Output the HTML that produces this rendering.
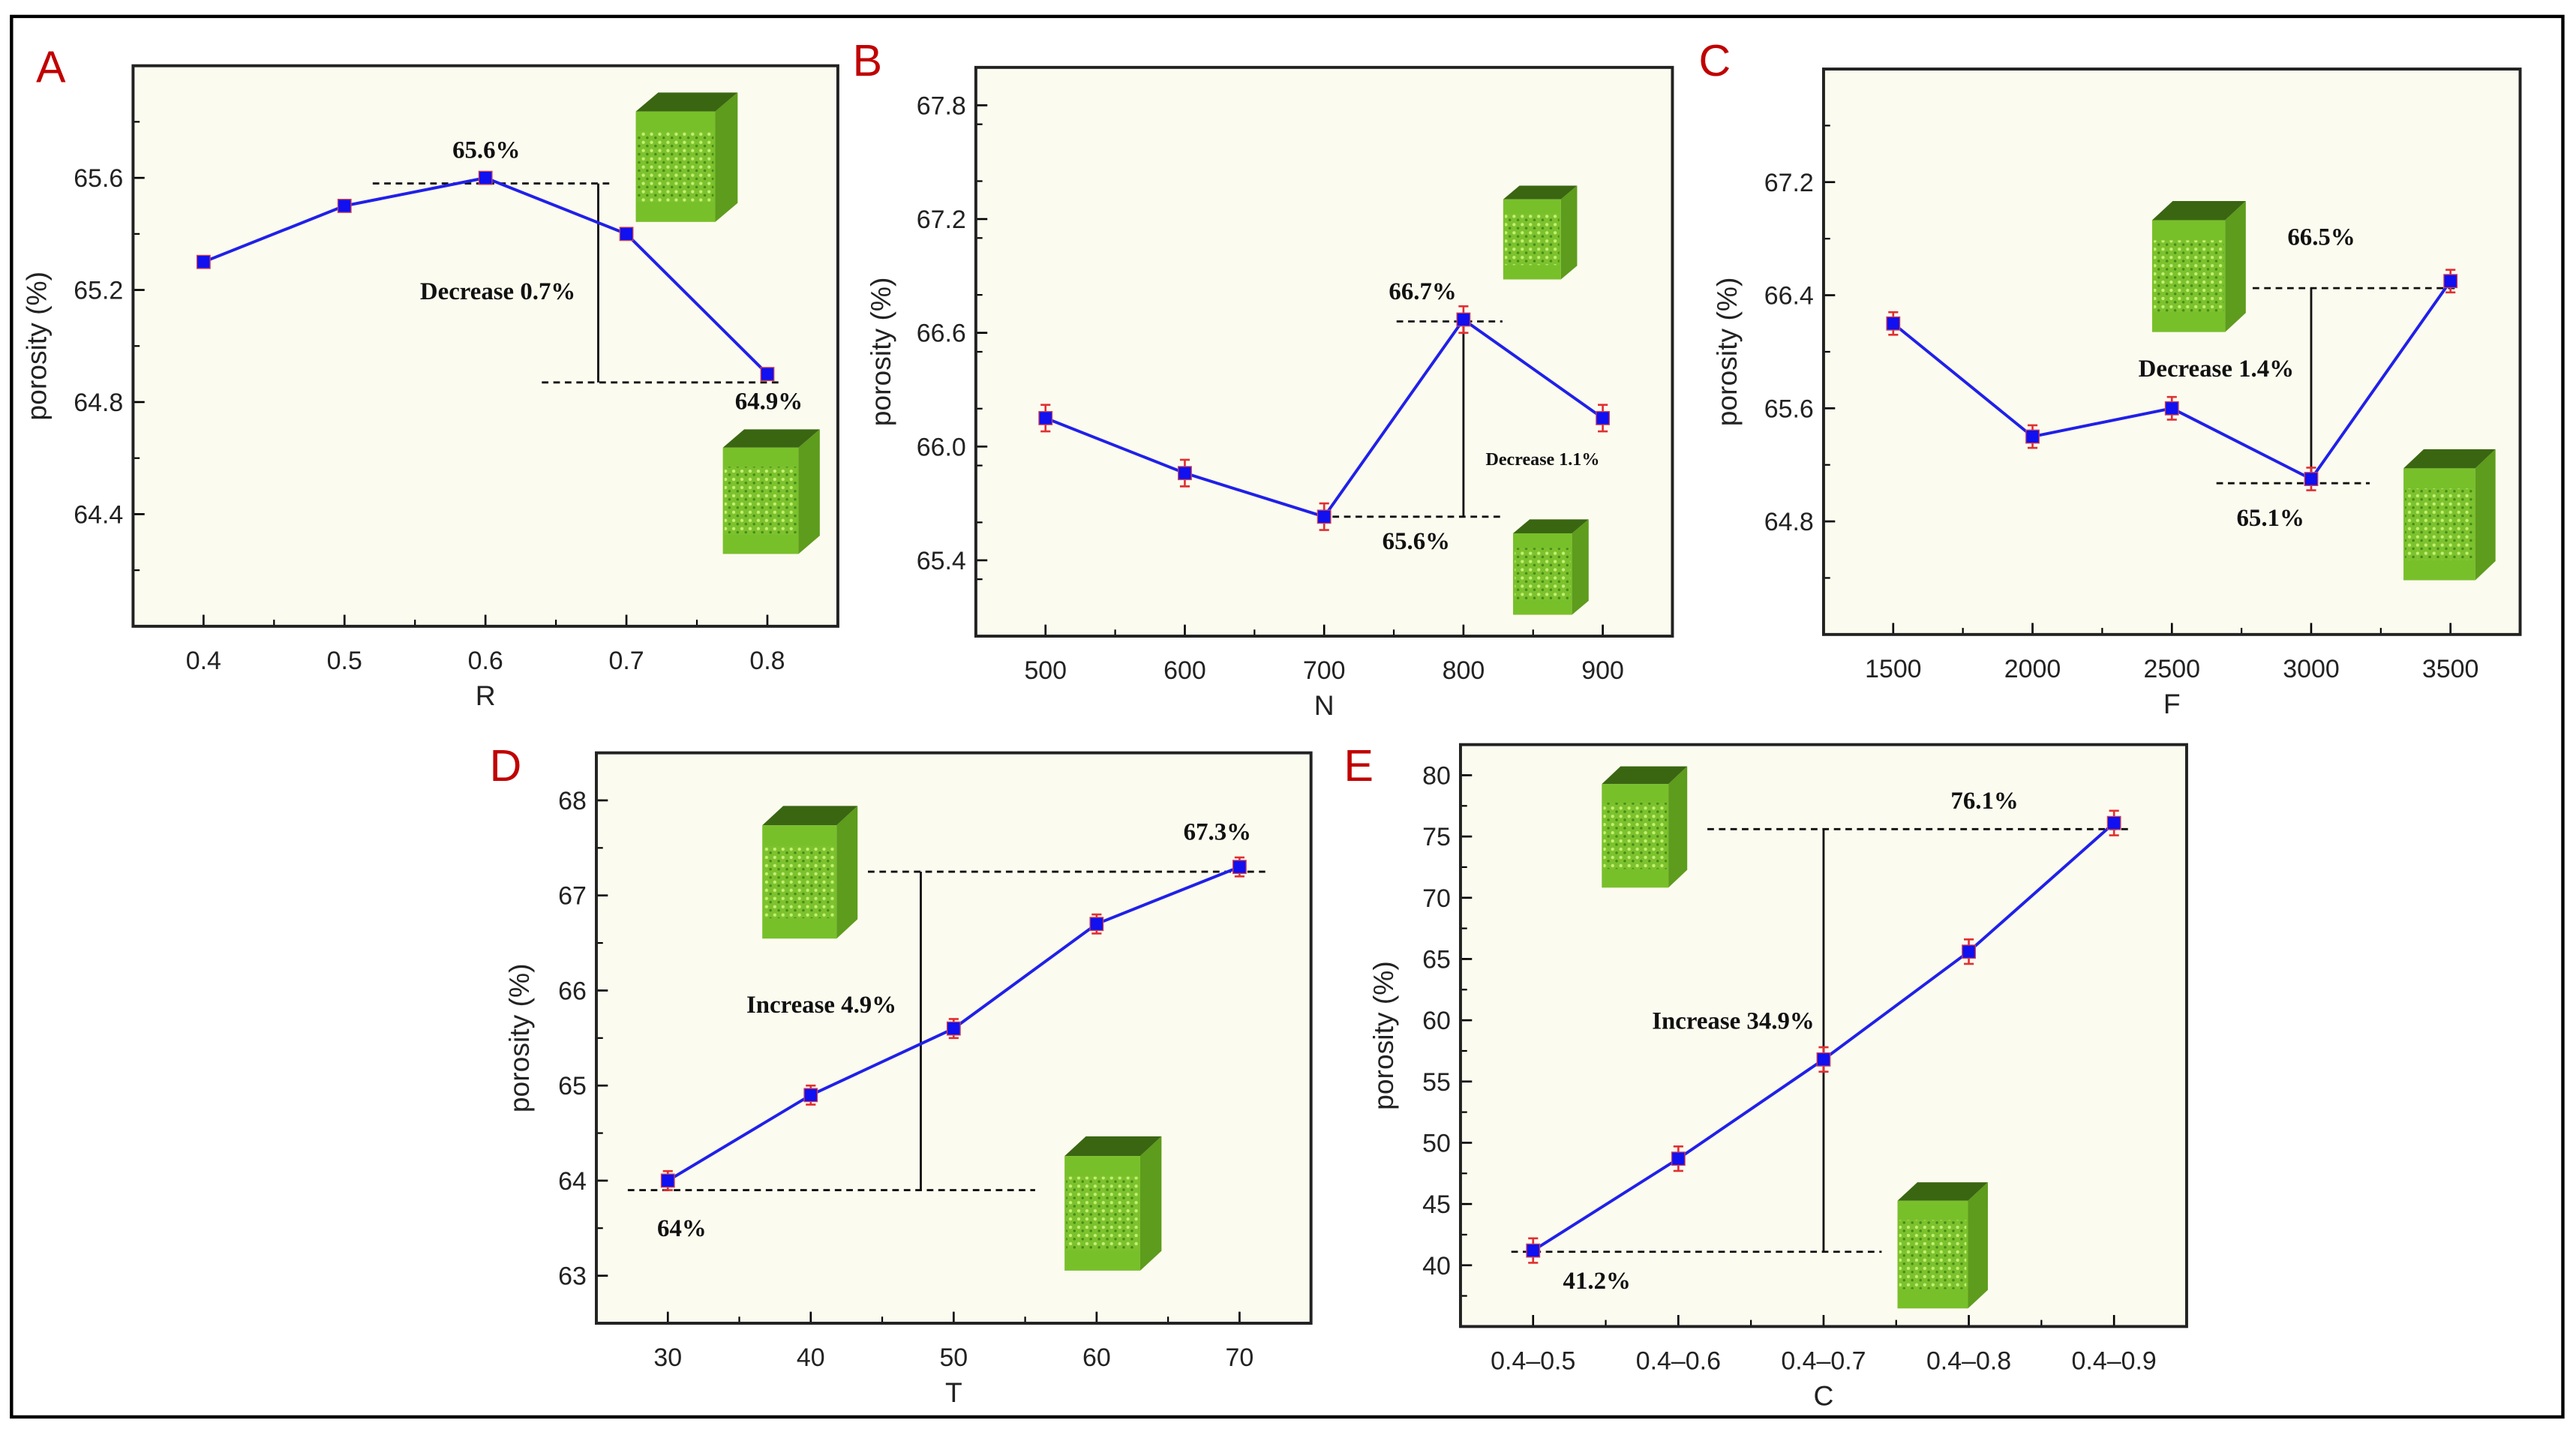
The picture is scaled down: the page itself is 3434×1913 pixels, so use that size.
<!DOCTYPE html>
<html><head><meta charset="utf-8"><style>
html,body{margin:0;padding:0;background:#fff;}
svg{display:block;}
text{font-family:"Liberation Sans",sans-serif;}
.ann{font-family:"Liberation Serif",serif;font-weight:bold;}
</style></head><body>
<svg id="fig" xmlns="http://www.w3.org/2000/svg" width="3434" height="1913" viewBox="0 0 1568 873" preserveAspectRatio="none">
<defs>
<pattern id="pores" width="5" height="5" patternUnits="userSpaceOnUse">
<rect width="5" height="5" fill="#7cc22e"/>
<circle cx="1.6" cy="1.6" r="1.0" fill="#c4f070"/>
<circle cx="4" cy="3.8" r="0.8" fill="#4a8a18"/>
</pattern>
</defs>
<rect x="7" y="10" width="1553" height="852" fill="none" stroke="#000" stroke-width="2"/>
</svg>
<script>
// ---- Panel A data ----
const catA = [0.4, 0.5, 0.6, 0.7, 0.8];
const valA = [65.3, 65.5, 65.6, 65.4, 64.9];
const errA = [0.01, 0.01, 0.01, 0.01, 0.01];
const yTicksA = ["64.4", "64.8", "65.2", "65.6"];
const xTicksA = ["0.4", "0.5", "0.6", "0.7", "0.8"];
// ---- Panel B data ----
const catB = [500, 600, 700, 800, 900];
const valB = [66.15, 65.86, 65.63, 66.67, 66.15];
const errB = [0.07, 0.07, 0.07, 0.07, 0.07];
const yTicksB = ["65.4", "66.0", "66.6", "67.2", "67.8"];
const xTicksB = ["500", "600", "700", "800", "900"];
// ---- Panel C data ----
const catC = [1500, 2000, 2500, 3000, 3500];
const valC = [66.2, 65.4, 65.6, 65.1, 66.5];
const errC = [0.08, 0.08, 0.08, 0.08, 0.08];
const yTicksC = ["64.8", "65.6", "66.4", "67.2"];
const xTicksC = ["1500", "2000", "2500", "3000", "3500"];
// ---- Panel D data ----
const catD = [30, 40, 50, 60, 70];
const valD = [64.0, 64.9, 65.6, 66.7, 67.3];
const errD = [0.1, 0.1, 0.1, 0.1, 0.1];
const yTicksD = ["63", "64", "65", "66", "67", "68"];
const xTicksD = ["30", "40", "50", "60", "70"];
// ---- Panel E data ----
const catE = [0, 1, 2, 3, 4];
const valE = [41.2, 48.7, 56.8, 65.6, 76.1];
const errE = [1.0, 1.0, 1.0, 1.0, 1.0];
const yTicksE = ["40", "45", "50", "55", "60", "65", "70", "75", "80"];
const xTicksE = ["0.4–0.5", "0.4–0.6", "0.4–0.7", "0.4–0.8", "0.4–0.9"];

const NS = "http://www.w3.org/2000/svg";
const svg = document.getElementById("fig");
function mk(tag, attrs, parent, txt) {
  const e = document.createElementNS(NS, tag);
  for (const k in attrs) e.setAttribute(k, attrs[k]);
  if (txt !== undefined) e.textContent = txt;
  (parent || svg).appendChild(e);
  return e;
}
function cube(g, x, y, w, h, name) {
  const c = mk("g", {}, g);
  
  
  const fw = w * 0.78, t = h * 0.16, s = h * 0.08;
  // top
  mk("polygon", {points: `${x},${y+t} ${x+w-fw+0*0},${y+s*0.2} ${x+w},${y+s*0.2} ${x+fw},${y+t}`.replace(`${x+w-fw+0*0},`, `${x+w-fw},`), fill: "#3a6612"}, c);
  // front face
  mk("rect", {x: x, y: y + t, width: fw, height: h - t, fill: "#78c02a"}, c);
  mk("rect", {x: x + 1, y: y + t + (h - t) * 0.18, width: fw - 2, height: (h - t) * 0.64, fill: "url(#pores)"}, c);
  // side
  mk("polygon", {points: `${x+fw},${y+t} ${x+w},${y+s*0.2} ${x+w},${y+h-t+s*0.2} ${x+fw},${y+h}`, fill: "#5d9c1c"}, c);
}

function panel(cfg) {
  const g = mk("g", {});
  
  
  const {L, T, R, B, x0, x1, y0, y1} = cfg;
  const sx = v => L + (v - x0) / (x1 - x0) * (R - L);
  const sy = v => B - (v - y0) / (y1 - y0) * (B - T);
  const bg = mk("rect", {x: L, y: T, width: R - L, height: B - T, fill: "#fcfbef"}, g);
  
  
  for (let v = y0 + cfg.yMinor; v < y1 - 1e-9; v += cfg.yMinor) {
    mk("line", {x1: L, x2: L + 4, y1: sy(v), y2: sy(v), stroke: "#000", "stroke-width": 1}, g);
  }
  cfg.yTicks.forEach(t => {
    const y = sy(parseFloat(t));
    mk("line", {x1: L, x2: L + 7, y1: y, y2: y, stroke: "#000", "stroke-width": 1.2}, g);
    const tx = mk("text", {x: L - 6, y: y + 5.5, "text-anchor": "end", "font-size": 15.5, fill: "#222"}, g, t);
    
    
  });
  cfg.xTickVals.forEach((v, i) => {
    const x = sx(v);
    mk("line", {x1: x, x2: x, y1: B, y2: B - 7, stroke: "#000", "stroke-width": 1.2}, g);
    if (i < cfg.xTickVals.length - 1) {
      const xm = sx(v + (cfg.xTickVals[1] - cfg.xTickVals[0]) / 2);
      mk("line", {x1: xm, x2: xm, y1: B, y2: B - 4, stroke: "#000", "stroke-width": 1}, g);
    }
    const tx = mk("text", {x: x, y: B + 26, "text-anchor": "middle", "font-size": 15.5, fill: "#222"}, g, cfg.xTicks[i]);
    
    
  });
  const fr = mk("rect", {x: L, y: T, width: R - L, height: B - T, fill: "none", stroke: "#222", "stroke-width": 1.8}, g);
  
  
  const xt = mk("text", {x: (L + R) / 2, y: B + 48, "text-anchor": "middle", "font-size": 17, fill: "#222"}, g, cfg.xLabel);
  
  
  const yc = (T + B) / 2;
  const yt = mk("text", {x: cfg.yLabX, y: yc, "text-anchor": "middle", "font-size": 17, fill: "#222", transform: `rotate(-90 ${cfg.yLabX} ${yc})`}, g, "porosity (%)");
  
  
  const pl = mk("text", {x: cfg.letX, y: cfg.letY, "font-size": 27, fill: "#c00000"}, g, cfg.letter);
  
  
  cfg.cubes.forEach((c, i) => cube(g, c[0], c[1], c[2], c[3], 'structure-image-' + (i + 1)));
  const dash = cfg.dotted ? "1.5,1" : "4,3";
  const a = cfg.ann;
  const l1 = mk("line", {x1: sx(a.top[0]), x2: sx(a.top[1]), y1: sy(a.topV), y2: sy(a.topV), stroke: "#111", "stroke-width": 1.3, "stroke-dasharray": dash}, g);
  
  
  const l2 = mk("line", {x1: sx(a.bot[0]), x2: sx(a.bot[1]), y1: sy(a.botV), y2: sy(a.botV), stroke: "#111", "stroke-width": 1.3, "stroke-dasharray": dash}, g);
  
  
  const l3 = mk("line", {x1: sx(a.vx), x2: sx(a.vx), y1: sy(a.topV), y2: sy(a.botV), stroke: "#111", "stroke-width": 1.3}, g);
  
  
  cfg.texts.forEach(t => {
    const e = mk("text", {x: t[0], y: t[1], "text-anchor": "middle", "font-size": t[3] || 15, fill: "#111", class: "ann"}, g, t[2]);
    
    
  });
  const pts = cfg.cat.map((c, i) => `${sx(c)},${sy(cfg.val[i])}`).join(" ");
  const pl2 = mk("polyline", {points: pts, fill: "none", stroke: "#2020e8", "stroke-width": 1.8}, g);
  
  
  cfg.cat.forEach((c, i) => {
    const x = sx(c), yh = sy(cfg.val[i] + cfg.err[i]), yl = sy(cfg.val[i] - cfg.err[i]);
    const eb = mk("path", {d: `M${x},${yh}V${yl}M${x-3},${yh}H${x+3}M${x-3},${yl}H${x+3}`, stroke: "#e03030", "stroke-width": 1.2, fill: "none"}, g);
    
    
    const m = mk("rect", {x: x - 4, y: sy(cfg.val[i]) - 4, width: 8, height: 8, fill: "#1010f0", stroke: "#d04050", "stroke-width": 0.6}, g);
    
    
  });
}

panel({name: "panel-a", letter: "A", letX: 22, letY: 50, L: 81, T: 40, R: 510, B: 381,
  x0: 0.35, x1: 0.85, y0: 64.0, y1: 66.0, yMinor: 0.2, yTicks: yTicksA, xTicks: xTicksA, xTickVals: catA,
  cat: catA, val: valA, err: errA, xLabel: "R", yLabX: 28,
  cubes: [[387, 55, 62, 80], [440, 260, 59, 77]],
  ann: {top: [0.52, 0.69], topV: 65.58, bot: [0.64, 0.81], botV: 64.87, vx: 0.68},
  texts: [[296, 96, "65.6%"], [303, 182, "Decrease 0.7%"], [468, 249, "64.9%"]]});

panel({name: "panel-b", letter: "B", letX: 519, letY: 46, L: 594, T: 41, R: 1018, B: 387,
  x0: 450, x1: 950, y0: 65.0, y1: 68.0, yMinor: 0.3, yTicks: yTicksB, xTicks: xTicksB, xTickVals: catB,
  cat: catB, val: valB, err: errB, xLabel: "N", yLabX: 542,
  cubes: [[915, 112, 45, 58], [921, 315, 46, 59]],
  ann: {top: [752, 828], topV: 66.66, bot: [706, 828], botV: 65.63, vx: 800},
  texts: [[866, 182, "66.7%"], [939, 283, "Decrease 1.1%", 11], [862, 334, "65.6%"]]});

panel({name: "panel-c", letter: "C", letX: 1034, letY: 46, L: 1110, T: 42, R: 1534, B: 386,
  x0: 1250, x1: 3750, y0: 64.0, y1: 68.0, yMinor: 0.4, yTicks: yTicksC, xTicks: xTicksC, xTickVals: catC,
  cat: catC, val: valC, err: errC, xLabel: "F", yLabX: 1057,
  cubes: [[1310, 121, 57, 81], [1463, 272, 56, 81]],
  ann: {top: [2790, 3520], topV: 66.45, bot: [2660, 3210], botV: 65.07, vx: 3000},
  texts: [[1413, 149, "66.5%"], [1349, 229, "Decrease 1.4%"], [1382, 320, "65.1%"]]});

panel({name: "panel-d", letter: "D", letX: 298, letY: 475, L: 363, T: 458, R: 798, B: 805,
  x0: 25, x1: 75, y0: 62.5, y1: 68.5, yMinor: 0.5, yTicks: yTicksD, xTicks: xTicksD, xTickVals: catD,
  cat: catD, val: valD, err: errD, xLabel: "T", yLabX: 322,
  cubes: [[464, 489, 58, 82], [648, 690, 59, 83]],
  ann: {top: [44, 71.8], topV: 67.25, bot: [27.2, 55.7], botV: 63.9, vx: 47.7},
  texts: [[741, 511, "67.3%"], [500, 616, "Increase 4.9%"], [415, 752, "64%"]]});

panel({name: "panel-e", letter: "E", letX: 818, letY: 475, L: 889, T: 453, R: 1331, B: 807,
  x0: -0.5, x1: 4.5, y0: 35, y1: 82.5, yMinor: 2.5, yTicks: yTicksE, xTicks: xTicksE, xTickVals: catE,
  cat: catE, val: valE, err: errE, xLabel: "C", yLabX: 848,
  cubes: [[975, 465, 52, 75], [1155, 718, 55, 78]],
  ann: {top: [1.2, 4.1], topV: 75.6, bot: [-0.15, 2.4], botV: 41.1, vx: 2.0},
  texts: [[1208, 492, "76.1%"], [1055, 626, "Increase 34.9%"], [972, 784, "41.2%"]]});
</script>
</body></html>
